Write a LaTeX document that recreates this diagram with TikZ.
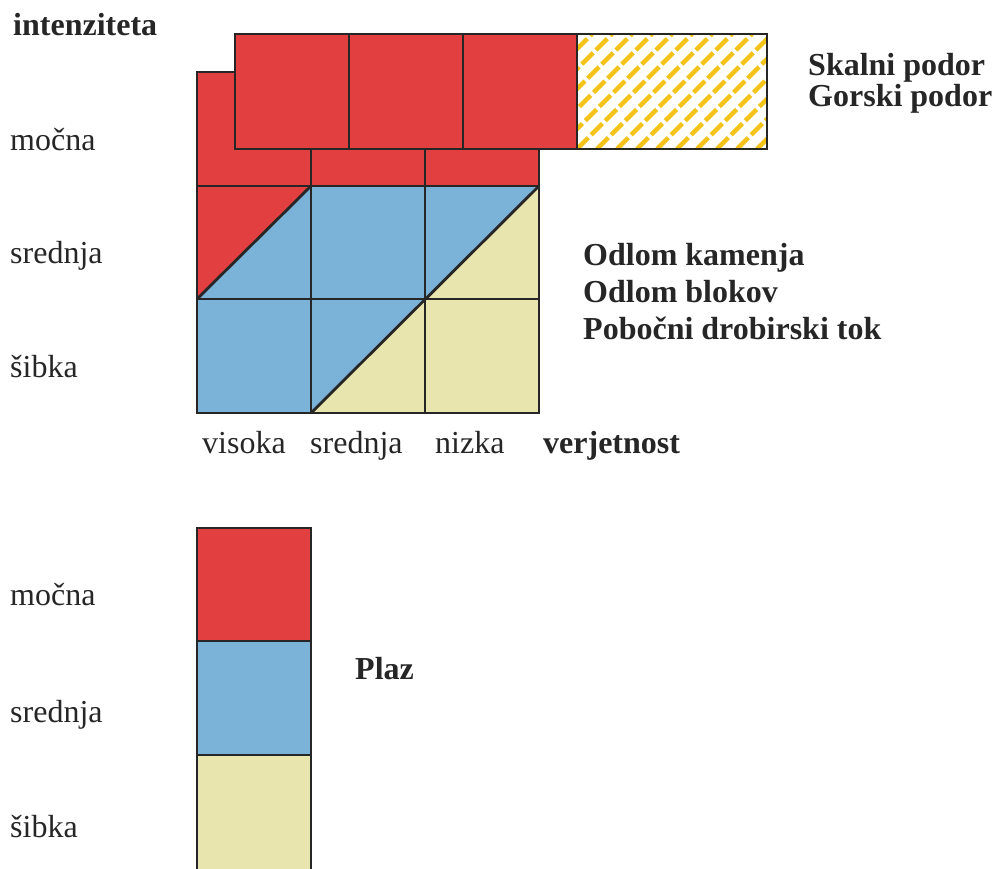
\documentclass[tikz,border=0pt]{standalone}
\usepackage{fontspec}
\setmainfont{Liberation Serif}
\usetikzlibrary{positioning}

\definecolor{hred}{HTML}{E24040}
\definecolor{hblue}{HTML}{7BB2D8}
\definecolor{hbeige}{HTML}{E9E5AF}
\definecolor{hhatch}{HTML}{F3C318}
\definecolor{hline}{HTML}{262626}

\begin{document}
\begin{tikzpicture}[
    x=1pt, y=-1pt,
    cell/.style={draw=hline, line width=2.8pt, line join=miter},
    edge/.style={draw=hline, line width=2.8pt, line cap=rect},
    lab/.style={anchor=base west, inner sep=0pt, text=hline,
      font=\fontsize{32}{37}\selectfont},
    head/.style={lab, font=\fontsize{32}{37}\selectfont\bfseries},
    hatch/.style={draw=hhatch, line width=4.5pt, dash pattern=on 16pt off 4pt}
    ]
    \useasboundingbox (0,0) rectangle (995,868);

    % back grid: top row strong
    \fill[hred]   (197,72)  rectangle (539,186);
    \fill[hblue]  (197,186) rectangle (539,413);
    \fill[hred]   (197,186) -- (311,186) -- (197,299) -- cycle;
    \fill[hbeige] (539,186) -- (539,413) -- (311,413) -- cycle;
    \foreach \x in {197,311,425,539} {
      \draw[edge] (\x,72) -- (\x,413);
    }
    \foreach \y in {72,186,299,413} {
      \draw[edge] (197,\y) -- (539,\y);
    }
    \draw[edge, line cap=butt] (197,299) -- (311,186);
    \draw[edge, line cap=butt] (311,413) -- (539,186);

    % front row (Skalni / Gorski podor)
    \foreach \x in {235,349,463} {
      \fill[hred] (\x,34) rectangle ++(114,115);
      \draw[cell] (\x,34) rectangle ++(114,115);
    }
    \fill[white] (577,34) rectangle (767,149);
    \begin{scope}
      \clip (577,34) rectangle (767,149);
      \foreach \k in {-120,-100,...,200} {
        \draw[hatch] (577+\k,149) -- (692+\k,34);
      }
    \end{scope}
    \draw[cell] (577,34) rectangle (767,149);

    % Plaz column
    \fill[hred]   (197,528) rectangle (311,641);
    \fill[hblue]  (197,641) rectangle (311,755);
    \fill[hbeige] (197,755) rectangle (311,880);
    \draw[cell] (197,880) -- (197,528) -- (311,528) -- (311,880);
    \draw[edge] (197,641) -- (311,641);
    \draw[edge] (197,755) -- (311,755);

    % labels
    \node[head] (intenz)  at (13,35)   {intenziteta};
    \node[lab]  (mocna)   at (10,150)  {močna};
    \node[lab]  (srednja) at (10,263)  {srednja};
    \node[lab]  (sibka)   at (10,377)  {šibka};

    \node[lab]  (visoka)  at (202,453) {visoka};
    \node[lab]  (sredv)   at (310,453) {srednja};
    \node[lab]  (nizka)   at (435,453) {nizka};
    \node[head] (verj)    at (543,453) {verjetnost};

    \node[head] (skalni)  at (808,75)  {Skalni podor};
    \node[head] (gorski)  at (808,106) {Gorski podor};

    \node[head] (kamen)   at (583,265) {Odlom kamenja};
    \node[head] (blokov)  at (583,302) {Odlom blokov};
    \node[head] (drobir)  at (583,339) {Pobočni drobirski tok};

    \node[head] (plaz)    at (355,679) {Plaz};
    \node[lab]  (mocnab)  at (10,605)  {močna};
    \node[lab]  (srednb)  at (10,722)  {srednja};
    \node[lab]  (sibkab)  at (10,837)  {šibka};
\end{tikzpicture}
\end{document}
